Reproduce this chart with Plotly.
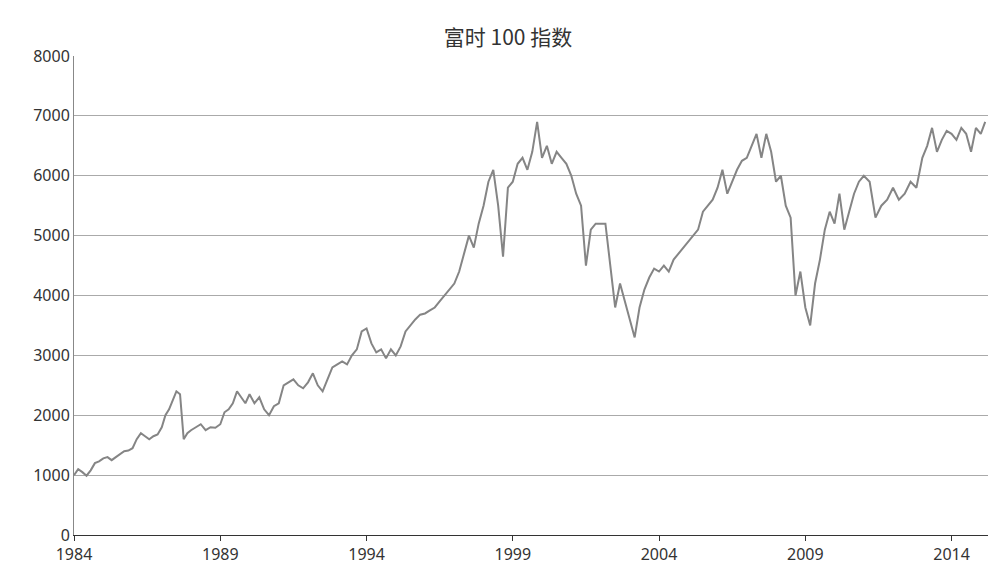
import plotly.graph_objects as go
from datetime import datetime, timedelta

years = list(range(1984, 2016))
vals = {
1984:[1000,1100,1050,990,1080,1200,1230],
1985:[1280,1300,1250,1300,1350,1400,1410],
1986:[1450,1600,1700,1650,1600,1650,1680],
1987:[1800,2000,2100,2250,2400,2350,1600,1700],
1988:[1750,1800,1850,1750,1800,1790],
1989:[1850,2050,2100,2200,2400,2300,2200],
1990:[2350,2200,2300,2100,2000,2150],
1991:[2200,2500,2550,2600,2500,2450],
1992:[2550,2700,2500,2400,2600,2800],
1993:[2850,2900,2850,3000,3100,3400],
1994:[3450,3200,3050,3100,2950,3100],
1995:[3000,3150,3400,3500,3600,3680],
1996:[3700,3750,3800,3900,4000,4100],
1997:[4200,4400,4700,5000,4800,5200],
1998:[5500,5900,6100,5500,4650,5800],
1999:[5900,6200,6300,6100,6400,6900],
2000:[6300,6500,6200,6400,6300,6200],
2001:[6000,5700,5500,4500,5100,5200],
2002:[5200,5200,4500,3800,4200,3900],
2003:[3600,3300,3800,4100,4300,4450],
2004:[4400,4500,4400,4600,4700,4800],
2005:[4900,5000,5100,5400,5500,5600],
2006:[5800,6100,5700,5900,6100,6250],
2007:[6300,6500,6700,6300,6700,6400],
2008:[5900,6000,5500,5300,4000,4400],
2009:[3800,3500,4200,4600,5100,5400],
2010:[5200,5700,5100,5400,5700,5900],
2011:[6000,5900,5300,5500,5600],
2012:[5800,5600,5700,5900,5800],
2013:[6300,6500,6800,6400,6600,6750],
2014:[6700,6600,6800,6700,6400,6800],
2015:[6700,6900],
}
tick_years = [1984, 1989, 1994, 1999, 2004, 2009, 2014]

x, y = [], []
for yr in years:
    v = vals[yr]
    span = 365 if yr < 2015 else 110
    for i, val in enumerate(v):
        x.append(datetime(yr, 1, 1) + timedelta(days=span * i / len(v)))
        y.append(val)

fig = go.Figure(go.Scatter(x=x, y=y, mode="lines", line=dict(color="#858585", width=2)))
fig.update_layout(
    width=1000, height=569, paper_bgcolor="white", plot_bgcolor="white",
    margin=dict(l=66, r=20, t=48, b=40),
    title=dict(text="富时 100 指数", x=0.5, y=0.96, xanchor="center",
               font=dict(family="Noto Sans CJK SC", size=21, color="#333")),
    font=dict(family="Noto Sans", size=16, color="#333"), showlegend=False,
)
fig.update_xaxes(range=[datetime(1984,1,1), datetime(2015,4,1)],
                 tickvals=[datetime(t,1,1) for t in tick_years], ticktext=[str(t) for t in tick_years],
                 showgrid=False, showline=True, linecolor="#333", ticks="outside", ticklen=5, tickcolor="#333")
fig.update_yaxes(range=[0, 8000], dtick=1000, showgrid=True, gridcolor="#aaa", gridwidth=1,
                 showline=True, linecolor="#888", ticks="", zeroline=False)
fig.write_html("out.html")
